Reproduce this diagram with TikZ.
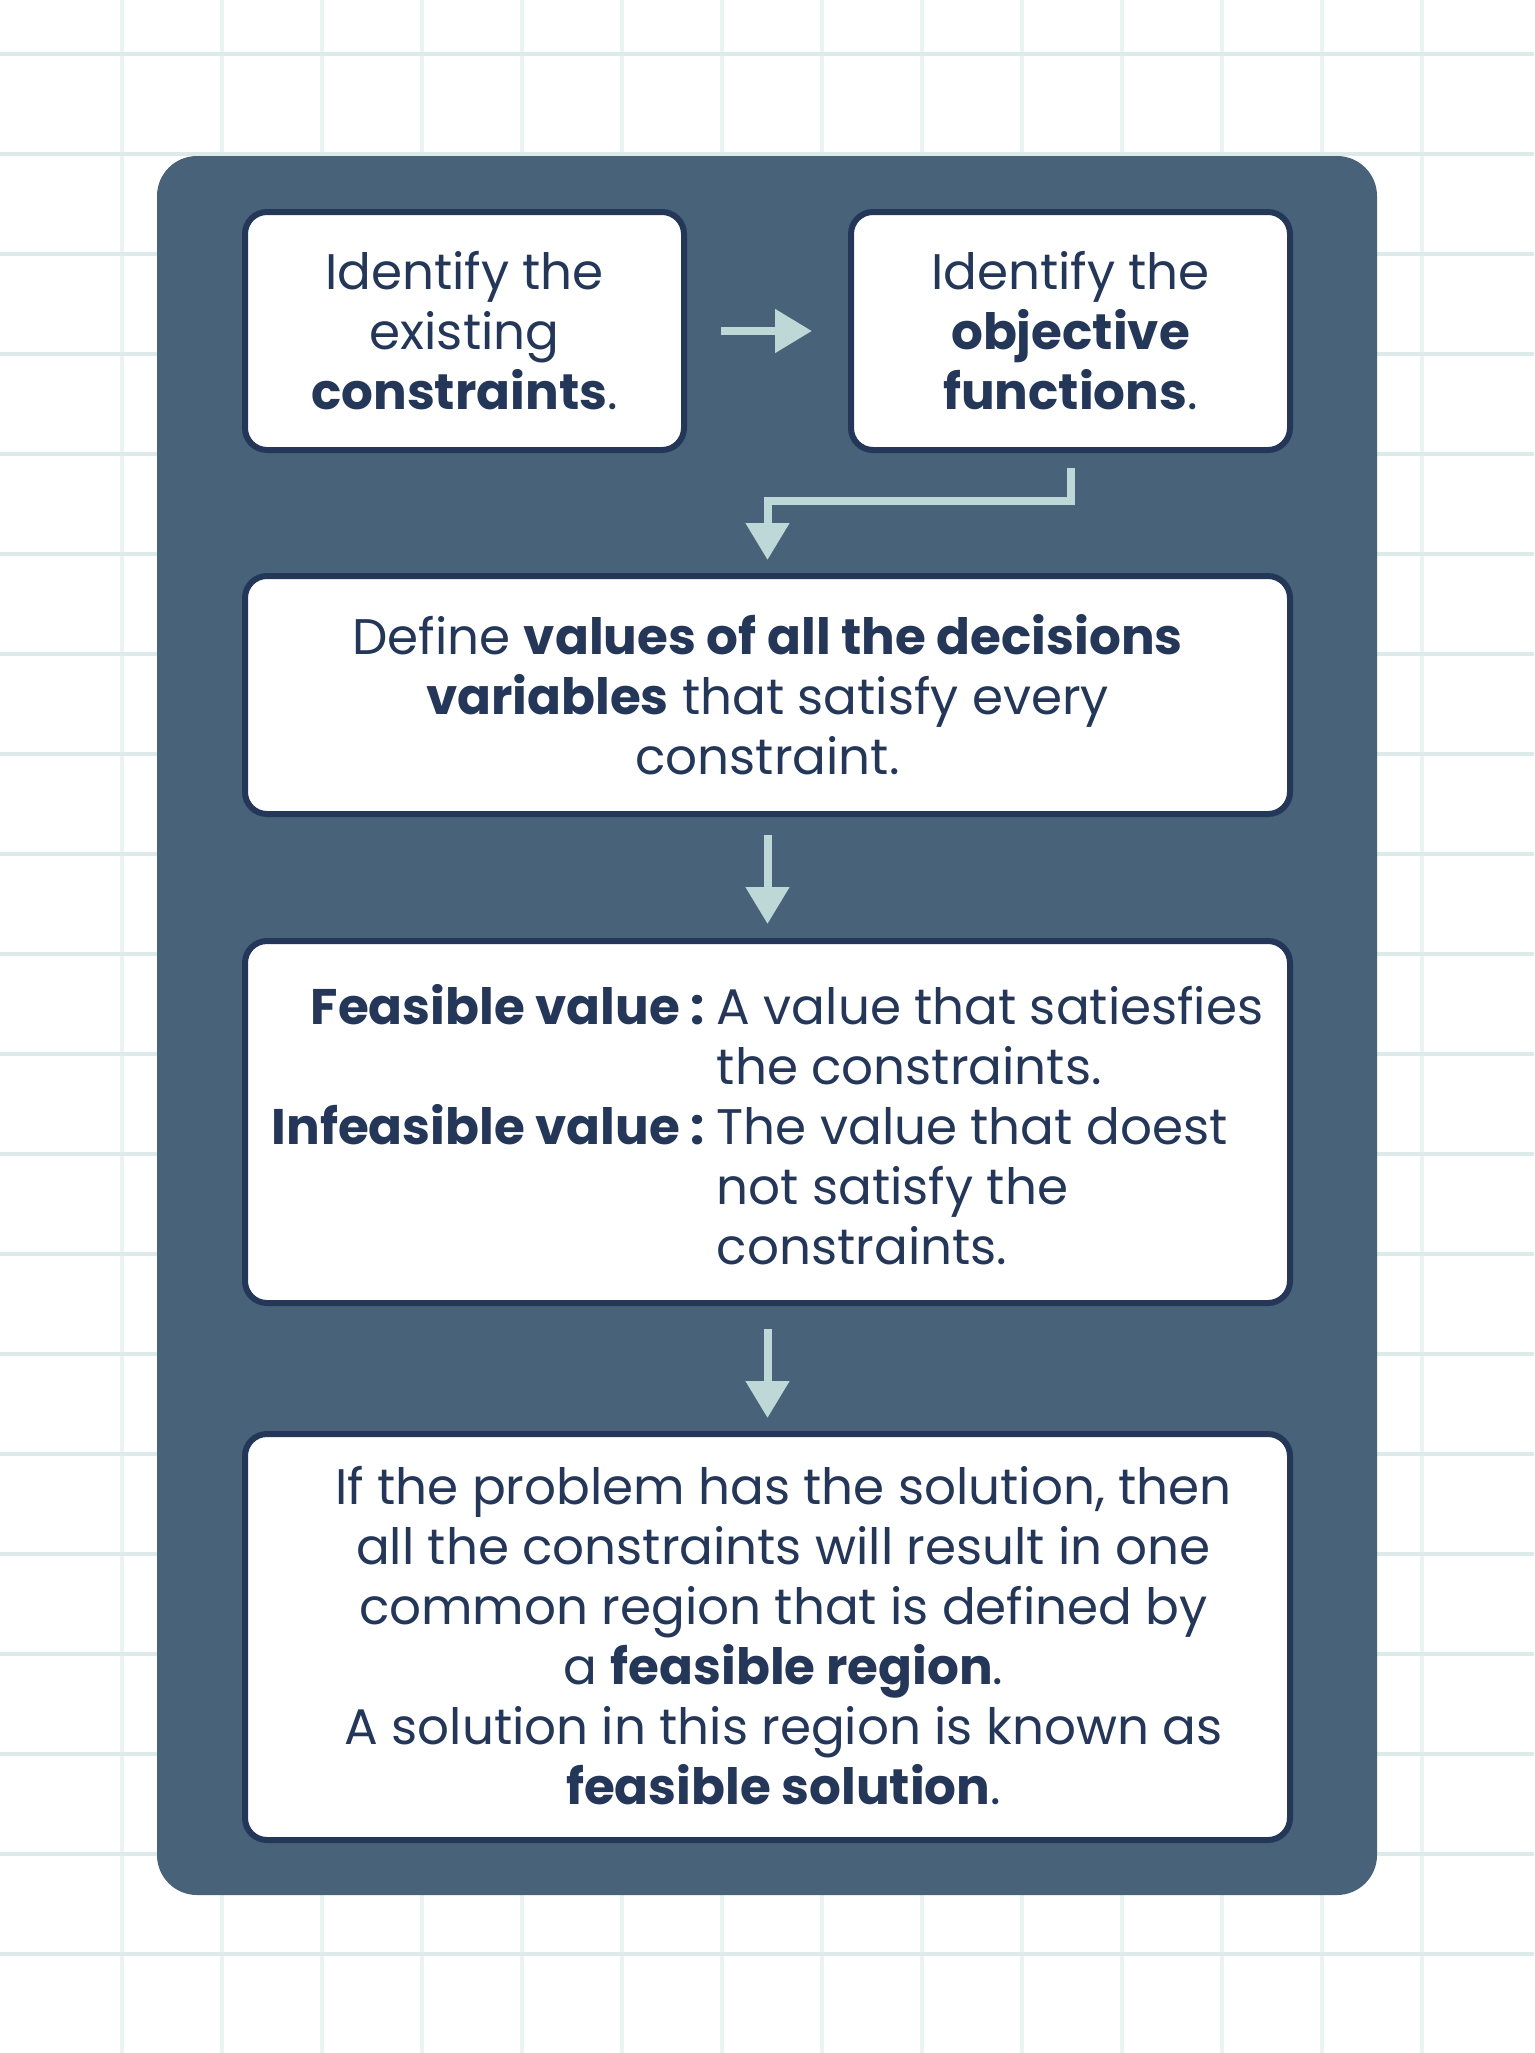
\documentclass[tikz,border=0pt]{standalone}
\usepackage{fontspec}
\setmainfont{Poppins}
\usetikzlibrary{arrows.meta}
\definecolor{gridh}{HTML}{DCEBEA}
\definecolor{gridv}{HTML}{EBF4F3}
\definecolor{panel}{HTML}{48627A}
\definecolor{ink}{HTML}{243759}
\definecolor{arrowc}{HTML}{BDD8D6}
\tikzset{
  stepbox/.style={draw=ink, line width=6pt, fill=white, rounded corners=22pt,
    text=ink, font=\fontsize{50}{60}\selectfont, align=center, inner sep=0pt},
  arr/.style={draw=arrowc, line width=8pt, -{Triangle[width=42pt,length=37pt]}},
}
\begin{document}
\begin{tikzpicture}[x=1pt,y=-1pt]
\useasboundingbox (0,0) rectangle (1534,2053);
\fill[white] (0,0) rectangle (1534,2053);
% grid
\foreach \i in {0,...,13} \draw[gridv, line width=3.5pt] (122+100*\i,0) -- (122+100*\i,2053);
\foreach \j in {0,...,19} \draw[gridh, line width=4pt] (0,54+100*\j) -- (1534,54+100*\j);
% panel
\fill[panel, rounded corners=40pt] (157,156) rectangle (1377,1895);
% boxes
\node[stepbox, minimum width=439pt, minimum height=238pt] (b1) at (464.5,331)
  {Identify the\\existing\\\textbf{constraints}.};
\node[stepbox, minimum width=439pt, minimum height=238pt] (b2) at (1070.5,331)
  {Identify the\\\textbf{objective}\\\textbf{functions}.};
\node[stepbox, minimum width=1045pt, minimum height=238pt] (b3) at (767.5,695)
  {Define \textbf{values of all the decisions}\\\textbf{variables} that satisfy every\\constraint.};
\node[stepbox, minimum width=1045pt, minimum height=362pt] (b4) at (767.5,1122)
  {\renewcommand{\arraystretch}{1}%
   \raisebox{-10pt}[\height][\depth]{\begin{tabular}{@{}r@{\hspace{12pt}}l@{}}
   \textbf{Feasible value :} & A value that satiesfies\\
   & the constraints.\\
   \textbf{Infeasible value :} & The value that doest\\
   & not satisfy the\\
   & constraints.
   \end{tabular}}};
\node[stepbox, minimum width=1045pt, minimum height=406pt] (b5) at (767.5,1637)
  {\hspace*{32pt}\raisebox{-5pt}[\height][\depth]{\begin{tabular}{@{}c@{}}
   If the problem has the solution, then\\
   all the constraints will result in one\\
   common region that is defined by\\
   a \textbf{feasible region}.\\
   A solution in this region is known as\\
   \textbf{feasible solution}.
   \end{tabular}}};
% connectors
\draw[arr, shorten <=34pt, shorten >=36pt] (b1.east) -- (b2.west);
\draw[arr, shorten <=15pt, shorten >=13pt] (b2.south) -- ++(0,48) -| (b3.north);
\draw[arr, shorten <=18pt, shorten >=14pt] (b3.south) -- (b4.north);
\draw[arr, shorten <=23pt, shorten >=13pt] (b4.south) -- (b5.north);
\end{tikzpicture}
\end{document}
